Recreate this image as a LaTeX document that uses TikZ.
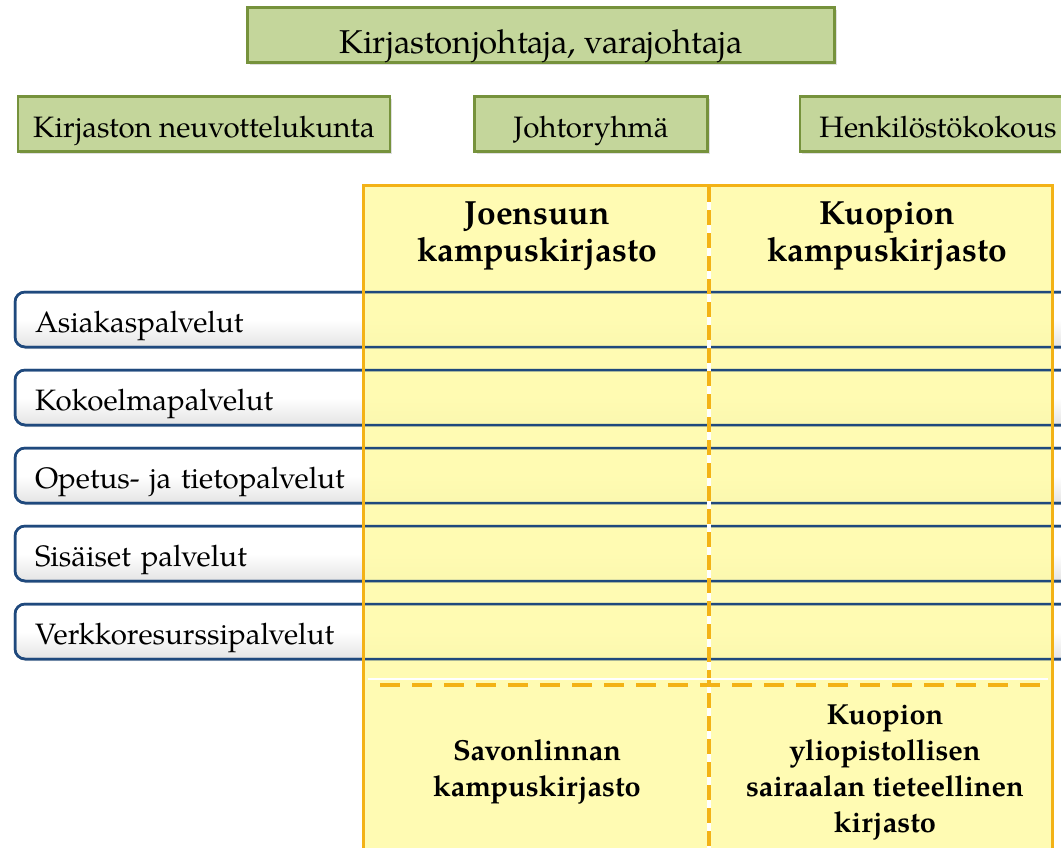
\documentclass[tikz,border=0pt]{standalone}
\usepackage{fontspec}
\setmainfont{TeX Gyre Pagella}
\usetikzlibrary{shadows}
\definecolor{boxgreen}{RGB}{196,214,155}
\definecolor{edgegreen}{RGB}{118,146,60}
\definecolor{panelyellow}{RGB}{255,251,168}
\definecolor{paneledge}{RGB}{243,178,22}
\definecolor{barblue}{RGB}{31,73,125}
\definecolor{barshade}{RGB}{228,228,228}

\begin{document}
\begin{tikzpicture}[x=1pt,y=-1pt,
    greenbox/.style={draw=edgegreen,line width=2.5pt,fill=boxgreen,minimum height=55pt,inner sep=0pt,
        text height=30pt,text depth=4pt,font=\fontsize{29.5}{32}\selectfont,
        drop shadow={opacity=0.25,shadow xshift=2pt,shadow yshift=-2pt}},
    rowbar/.style={rounded corners=10pt,draw=barblue,line width=2.5pt,top color=white,bottom color=barshade,
        middle color=white,minimum width=1080pt,minimum height=55pt,text width=1040pt,inner xsep=20pt,
        inner ysep=0pt,text height=27pt,text depth=2pt,outer sep=0pt,anchor=north west,align=left,
        font=\fontsize{29.5}{32}\selectfont,
        drop shadow={opacity=0.2,shadow xshift=1pt,shadow yshift=-2pt}},
    baredge/.style={draw=barblue,line width=2.5pt,rounded corners=10pt},
    heading/.style={align=center,font=\fontsize{33.5}{37}\selectfont\bfseries},
    subheading/.style={align=center,font=\fontsize{29}{36}\selectfont\bfseries}]
    \useasboundingbox (0,0) rectangle (1061,847);

    % management
    \node[greenbox,minimum width=587pt,text height=40pt,font=\fontsize{33}{36}\selectfont] (johtaja) at (541,35) {Kirjastonjohtaja, varajohtaja};
    \node[greenbox,minimum width=372pt] (neuvottelu) at (204,124) {Kirjaston neuvottelukunta};
    \node[greenbox,minimum width=233pt] (johtoryhma) at (591,124) {Johtoryhmä};
    \node[greenbox,minimum width=276pt] (henkilosto) at (938,124) {Henkilöstökokous};

    % service rows
    \node[rowbar] (asiakas) at (15,292) {Asiakaspalvelut};
    \node[rowbar] (kokoelma) at (15,370) {Kokoelmapalvelut};
    \node[rowbar] (opetus) at (15,448) {Opetus- ja tietopalvelut};
    \node[rowbar] (sisaiset) at (15,526) {Sisäiset palvelut};
    \node[rowbar] (verkko) at (15,604) {Verkkoresurssipalvelut};

    % campus panel
    \fill[panelyellow,fill opacity=0.88] (363,185) rectangle (1052,860);
    \draw[baredge] (asiakas.north west) rectangle (asiakas.south east);
    \draw[baredge] (kokoelma.north west) rectangle (kokoelma.south east);
    \draw[baredge] (opetus.north west) rectangle (opetus.south east);
    \draw[baredge] (sisaiset.north west) rectangle (sisaiset.south east);
    \draw[baredge] (verkko.north west) rectangle (verkko.south east);
    \draw[paneledge,line width=3pt] (363,860) -- (363,185) -- (1052,185) -- (1052,860);
    \draw[white,line width=3.5pt] (709,187) -- (709,860);
    \draw[paneledge,line width=4pt,dash pattern=on 15pt off 8pt] (709,187) -- (709,860);
    \draw[white,line width=1.5pt] (368,679) -- (1048,679);
    \draw[paneledge,line width=4pt,dash pattern=on 20pt off 12pt] (380,685) -- (1045,685);

    % campus libraries
    \node[heading] (joensuu) at (537,236) {Joensuun\\kampuskirjasto};
    \node[heading] (kuopio) at (887,236) {Kuopion\\kampuskirjasto};
    \node[subheading] (savonlinna) at (537,772) {Savonlinnan\\kampuskirjasto};
    \node[subheading] (kys) at (885,772) {Kuopion\\yliopistollisen\\sairaalan tieteellinen\\kirjasto};
\end{tikzpicture}
\end{document}
